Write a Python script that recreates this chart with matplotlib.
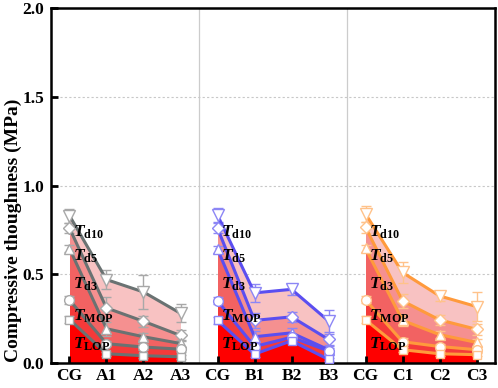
import matplotlib
matplotlib.use("Agg")
import matplotlib.pyplot as plt
import numpy as np

plt.rcParams['font.family'] = ['Liberation Serif', 'DejaVu Serif']
plt.rcParams['font.weight'] = 'bold'
plt.rcParams['mathtext.fontset'] = 'custom'
plt.rcParams['mathtext.rm'] = 'Liberation Serif:bold'
plt.rcParams['mathtext.it'] = 'Liberation Serif:italic:bold'
plt.rcParams['mathtext.bf'] = 'Liberation Serif:bold'

categories = ['CG', 'A1', 'A2', 'A3', 'CG', 'B1', 'B2', 'B3', 'CG', 'C1', 'C2', 'C3']
groups = ['A', 'B', 'C']
series_names = ['Td10', 'Td5', 'Td3', 'TMOP', 'TLOP']
labels = [r'$T_{\mathbf{d10}}$', r'$T_{\mathbf{d5}}$', r'$T_{\mathbf{d3}}$',
          r'$T_{\mathbf{MOP}}$', r'$T_{\mathbf{LOP}}$']

# values per group: [CG, X1, X2, X3]
A_Td10 = [0.83, 0.47, 0.40, 0.28]
A_Td5 = [0.76, 0.31, 0.235, 0.155]
A_Td3 = [0.645, 0.193, 0.148, 0.11]
A_TMOP = [0.355, 0.109, 0.09, 0.078]
A_TLOP = [0.245, 0.052, 0.041, 0.035]

B_Td10 = [0.833, 0.395, 0.415, 0.237]
B_Td5 = [0.76, 0.24, 0.26, 0.133]
B_Td3 = [0.642, 0.148, 0.17, 0.075]
B_TMOP = [0.35, 0.093, 0.145, 0.068]
B_TLOP = [0.24, 0.05, 0.125, 0.02]

C_Td10 = [0.84, 0.51, 0.378, 0.318]
C_Td5 = [0.765, 0.35, 0.243, 0.19]
C_Td3 = [0.646, 0.24, 0.16, 0.116]
C_TMOP = [0.356, 0.12, 0.093, 0.075]
C_TLOP = [0.243, 0.075, 0.052, 0.047]

A_err = [[0.04, 0.055, 0.095, 0.05], [0.03, 0.06, 0.03, 0.03], [0.02, 0.04, 0.02, 0.02],
         [0.02, 0.015, 0.015, 0.015], [0.02, 0.01, 0.01, 0.01]]
B_err = [[0.04, 0.05, 0.03, 0.06], [0.03, 0.04, 0.03, 0.03], [0.02, 0.03, 0.03, 0.02],
         [0.02, 0.02, 0.02, 0.015], [0.02, 0.015, 0.015, 0.01]]
C_err = [[0.045, 0.06, 0.03, 0.08], [0.03, 0.04, 0.03, 0.03], [0.02, 0.03, 0.02, 0.02],
         [0.02, 0.02, 0.015, 0.015], [0.02, 0.015, 0.01, 0.01]]

data = {
    'A': [A_Td10, A_Td5, A_Td3, A_TMOP, A_TLOP],
    'B': [B_Td10, B_Td5, B_Td3, B_TMOP, B_TLOP],
    'C': [C_Td10, C_Td5, C_Td3, C_TMOP, C_TLOP],
}
errs = {'A': A_err, 'B': B_err, 'C': C_err}

line_colors = {'A': '#6a7272', 'B': '#5b4ef0', 'C': '#ff9a3c'}
edge_colors = {'A': '#a8a8a8', 'B': '#8c86f5', 'C': '#ffc28a'}
fill_colors = ['#f8c2c2', '#f59090', '#f26262', '#f43a3a', '#fe0000']
markers = ['v', 'D', '^', 'o', 's']
msizes = [8, 6, 7, 7, 6]

fig = plt.figure(figsize=(4.98, 3.88), dpi=100)
ax = fig.add_axes([0.1024, 0.0644, 0.8916, 0.915])

for gi, g in enumerate(groups):
    x = np.arange(4) + gi * 4
    vals = data[g]
    for si in range(5):
        upper = np.array(vals[si])
        lower = np.array(vals[si + 1]) if si < 4 else np.zeros(4)
        ax.fill_between(x, lower, upper, color=fill_colors[si], lw=0, zorder=1)
    for si in range(5):
        ax.errorbar(x, vals[si], yerr=errs[g][si], fmt='none', ecolor=edge_colors[g],
                    elinewidth=1.0, capsize=3.5, capthick=1.0, zorder=3)
        ax.plot(x, vals[si], color=line_colors[g], lw=2.2, zorder=4)
        ax.plot(x, vals[si], linestyle='none', marker=markers[si], ms=msizes[si],
                mfc='white', mec=edge_colors[g], mew=1.0, zorder=5)
    ly = [0.735, 0.60, 0.445, 0.265, 0.105]
    for si in range(5):
        ax.text(x[0] + 0.1, ly[si], labels[si], fontsize=12.5, ha='left', va='center',
                zorder=6, color='black')

for xs in [3.5, 7.5]:
    ax.axvline(xs, color='#cccccc', lw=0.9, zorder=0)
for yg in [0.5, 1.0, 1.5]:
    ax.axhline(yg, color='#c8c8c8', lw=0.8, ls=(0, (2, 2)), zorder=0)

ax.set_xlim(-0.5, 11.5)
ax.set_ylim(0, 2.0)
ax.set_xticks(np.arange(12))
ax.set_xticklabels(categories, fontsize=12.5, fontweight='bold')
ax.set_yticks([0.0, 0.5, 1.0, 1.5, 2.0])
ax.set_yticklabels(['0.0', '0.5', '1.0', '1.5', '2.0'], fontsize=12.5, fontweight='bold')
ax.tick_params(axis='both', direction='in', length=5, width=2)
ax.tick_params(axis='x', pad=3.5)
ax.tick_params(axis='y', pad=5)
for sp in ax.spines.values():
    sp.set_linewidth(1.8)
ax.set_ylabel('Compressive thoughness (MPa)', fontsize=14, fontweight='bold')
ax.yaxis.set_label_coords(-0.066, 0.375)

fig.savefig('out.png', dpi=100)
